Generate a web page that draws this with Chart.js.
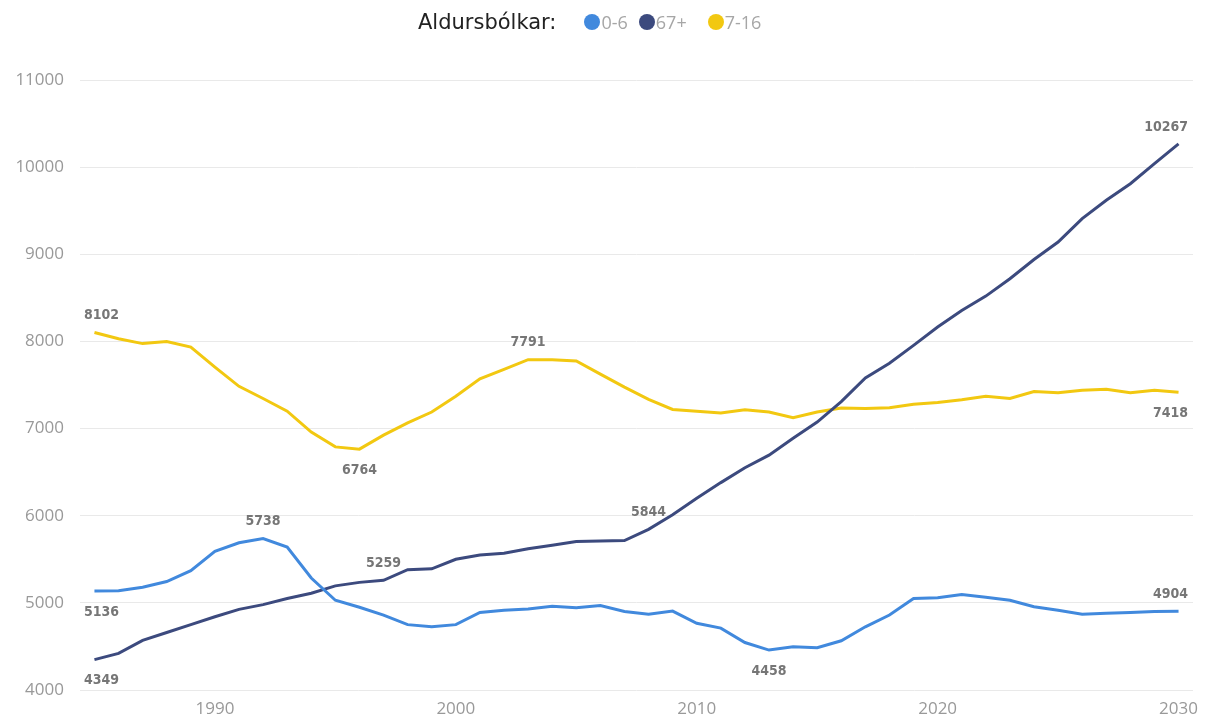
<!DOCTYPE html>
<html>
<head>
<meta charset="utf-8">
<script src="https://cdn.jsdelivr.net/npm/chart.js@4.4.1/dist/chart.umd.min.js"></script>
<style>
  body { margin: 0; background: #fff; }
  #wrap { position: relative; width: 1210px; height: 720px; }
  #legend { position: absolute; top: 10px; left: 418px; font-family: "DejaVu Sans", Verdana, sans-serif; font-size: 21px; color: #222; display: flex; align-items: center; white-space: nowrap; }
  #legend .item { display: flex; align-items: center; font-family: "Open Sans", sans-serif; font-size: 18px; color: #a6a6a6; }
  #legend .dot { width: 16px; height: 16px; border-radius: 50%; display: inline-block; margin-right: 1px; }
</style>
</head>
<body>
<div id="wrap">
  <div id="legend"></div>
  <canvas id="canvas" width="1210" height="720"></canvas>
</div>
<script>
const years = [1985, 1986, 1987, 1988, 1989, 1990, 1991, 1992, 1993, 1994,
  1995, 1996, 1997, 1998, 1999, 2000, 2001, 2002, 2003, 2004,
  2005, 2006, 2007, 2008, 2009, 2010, 2011, 2012, 2013, 2014,
  2015, 2016, 2017, 2018, 2019, 2020, 2021, 2022, 2023, 2024,
  2025, 2026, 2027, 2028, 2029, 2030];

const age0_6 = [5136, 5140, 5180, 5245, 5370, 5590, 5690, 5738, 5640, 5285,
  5030, 4950, 4860, 4750, 4725, 4750, 4890, 4915, 4930, 4960,
  4945, 4970, 4900, 4870, 4905, 4765, 4710, 4545, 4458, 4495,
  4485, 4565, 4725, 4860, 5050, 5060, 5095, 5065, 5030, 4955,
  4915, 4870, 4880, 4890, 4900, 4904];

const age67 = [4349, 4420, 4570, 4660, 4750, 4840, 4925, 4980, 5050, 5110,
  5195, 5235, 5259, 5380, 5390, 5500, 5550, 5570, 5620, 5660,
  5705, 5710, 5715, 5844, 6010, 6200, 6380, 6550, 6695, 6890,
  7075, 7310, 7580, 7750, 7955, 8165, 8355, 8520, 8720, 8940,
  9140, 9410, 9620, 9810, 10040, 10267];

const age7_16 = [8102, 8030, 7975, 8000, 7935, 7705, 7485, 7345, 7200, 6960,
  6790, 6764, 6925, 7065, 7190, 7370, 7570, 7680, 7791, 7791,
  7775, 7625, 7475, 7335, 7220, 7200, 7180, 7215, 7190, 7125,
  7190, 7235, 7230, 7240, 7280, 7300, 7330, 7370, 7345, 7425,
  7410, 7440, 7450, 7410, 7440, 7418];

const xTicks = [1990, 2000, 2010, 2020, 2030];
const yTicks = [4000, 5000, 6000, 7000, 8000, 9000, 10000, 11000];

const seriesNames = ["0-6", "67+", "7-16"];
const seriesColors = ["#4189dd", "#3c4a7e", "#f2c811"];

// which points get a value label: [series index, year index, "above"/"below"]
const pointLabels = [
  [0, 0, "below"], [0, 7, "above"], [0, 28, "below"], [0, 45, "above"],
  [1, 0, "below"], [1, 12, "above"], [1, 23, "above"], [1, 45, "above"],
  [2, 0, "above"], [2, 11, "below"], [2, 18, "above"], [2, 45, "below"]
];

const allSeries = [age0_6, age67, age7_16];

// html legend
const legendGaps = [11, 21, 0];
const legend = document.getElementById("legend");
legend.innerHTML = '<span style="margin-right:28px">Aldursbólkar:</span>' +
  seriesNames.map((n, i) =>
    '<span class="item" style="margin-right:' + legendGaps[i] + 'px"><span class="dot" style="background:' + seriesColors[i] + '"></span>' + n + '</span>'
  ).join("");

const labelPlugin = {
  id: "pointLabels",
  afterDatasetsDraw(chart) {
    const ctx = chart.ctx;
    const xs = chart.scales.x, ys = chart.scales.y;
    const area = chart.chartArea;
    ctx.save();
    ctx.font = "bold 14px 'DejaVu Sans Condensed', 'DejaVu Sans', sans-serif";
    ctx.fillStyle = "#767676";
    ctx.textBaseline = "middle";
    ctx.textAlign = "left";
    pointLabels.forEach(([s, i, pos]) => {
      const v = allSeries[s][i];
      const txt = String(v);
      const w = ctx.measureText(txt).width;
      let cx = xs.getPixelForValue(years[i]);
      let cy = ys.getPixelForValue(v) + (pos === "above" ? -17 : 21);
      let left = cx - w / 2;
      if (left < area.left + 4) left = area.left + 4;
      if (left + w > area.right - 5) left = area.right - 5 - w;
      ctx.fillText(txt, left, cy);
    });
    ctx.restore();
  }
};

const ctx = document.getElementById("canvas").getContext("2d");
const myChart = new Chart(ctx, {
  type: "line",
  data: {
    datasets: allSeries.map((vals, s) => ({
      label: seriesNames[s],
      data: vals.map((v, i) => ({ x: years[i], y: v })),
      borderColor: seriesColors[s],
      backgroundColor: seriesColors[s],
      borderWidth: 3,
      pointRadius: 0,
      tension: 0,
      fill: false
    }))
  },
  options: {
    responsive: false,
    animation: false,
    layout: { padding: { top: 80, right: 17, left: 0, bottom: 0 } },
    plugins: {
      legend: { display: false },
      tooltip: { enabled: false }
    },
    scales: {
      x: {
        type: "linear",
        min: 1984.4,
        max: 2030.6,
        grid: { display: false },
        border: { display: false },
        afterBuildTicks: (axis) => { axis.ticks = xTicks.map(v => ({ value: v })); },
        afterFit: (axis) => { axis.height = 30; },
        ticks: {
          padding: 1,
          color: "#999",
          font: { family: "'Open Sans', sans-serif", size: 17 },
          callback: (v) => String(v)
        }
      },
      y: {
        min: 4000,
        max: 11000,
        afterBuildTicks: (axis) => { axis.ticks = yTicks.map(v => ({ value: v })); },
        afterFit: (axis) => { axis.width = 80; },
        grid: { color: "#e9e9e9", lineWidth: 1, drawTicks: false },
        border: { display: false },
        ticks: {
          padding: 16,
          color: "#999",
          font: { family: "'Open Sans', sans-serif", size: 17 },
          callback: (v) => String(v)
        }
      }
    }
  },
  plugins: [labelPlugin]
});
</script>
</body>
</html>
